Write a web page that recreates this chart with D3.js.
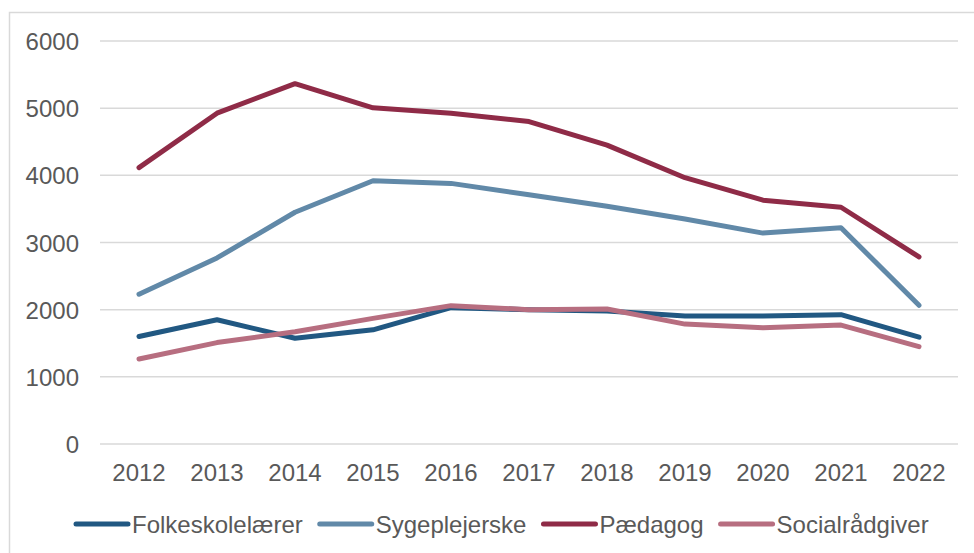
<!DOCTYPE html>
<html>
<head>
<meta charset="utf-8">
<script src="https://cdn.jsdelivr.net/npm/d3@7"></script>
<style>
  body { margin: 0; background: #fff; }
  svg text { font-family: "Liberation Sans", Arial, sans-serif; fill: #595959; }
</style>
</head>
<body>
<div id="chart"></div>
<script>
// data
var years = ["2012","2013","2014","2015","2016","2017","2018","2019","2020","2021","2022"];
var yTicks = [0, 1000, 2000, 3000, 4000, 5000, 6000];

var folkeskolelaerer = [1600, 1850, 1575, 1700, 2030, 2000, 1980, 1905, 1907, 1925, 1590];
var sygeplejerske    = [2230, 2770, 3450, 3920, 3880, 3710, 3540, 3350, 3140, 3220, 2065];
var paedagog         = [4115, 4925, 5365, 5005, 4925, 4800, 4450, 3965, 3630, 3525, 2785];
var socialraadgiver  = [1265, 1510, 1670, 1870, 2060, 2000, 2010, 1785, 1730, 1770, 1450];

var seriesNames  = ["Folkeskolelærer", "Sygeplejerske", "Pædagog", "Socialrådgiver"];
var seriesColors = ["#215882", "#6189a8", "#8f2b47", "#b76e80"];

var series = [folkeskolelaerer, sygeplejerske, paedagog, socialraadgiver].map(function(vals, i){
    return { name: seriesNames[i], color: seriesColors[i], values: vals };
});

var width = 974, height = 553;
var margin = { left: 100, right: 16, top: 41, bottom: 109 };
var fontSize = 24;

var svg = d3.select("#chart")
    .append("svg")
    .attr("width", width)
    .attr("height", height);

// outer chart frame (only left and top edges visible)
svg.append("path")
    .attr("d", "M9.5," + height + "V12.5H" + width)
    .attr("fill", "none")
    .attr("stroke", "#d9d9d9")
    .attr("stroke-width", 1.5);

var x = d3.scaleBand()
    .domain(years)
    .range([margin.left, width - margin.right]);

var y = d3.scaleLinear()
    .domain([0, 6000])
    .range([height - margin.bottom, margin.top]);

// gridlines
svg.append("g")
    .selectAll("line")
    .data(yTicks)
    .join("line")
    .attr("x1", margin.left)
    .attr("x2", width - margin.right)
    .attr("y1", function(d){ return y(d); })
    .attr("y2", function(d){ return y(d); })
    .attr("stroke", "#d9d9d9")
    .attr("stroke-width", 1.5);

// y axis labels
var yAxis = svg.append("g")
    .attr("transform", "translate(" + (margin.left - 21) + ",0)")
    .call(d3.axisLeft(y).tickValues(yTicks).tickSize(0).tickPadding(0).tickFormat(d3.format("d")));
yAxis.select(".domain").remove();
yAxis.selectAll("text")
    .attr("font-size", fontSize)
    .attr("font-family", null)
    .attr("dy", "0.36em");

// x axis labels
var xAxis = svg.append("g")
    .attr("transform", "translate(0," + (height - margin.bottom) + ")")
    .call(d3.axisBottom(x).tickSize(0).tickPadding(20));
xAxis.select(".domain").remove();
xAxis.selectAll("text")
    .attr("font-size", fontSize)
    .attr("font-family", null);

// lines
var line = d3.line()
    .x(function(d, i){ return x(years[i]) + x.bandwidth() / 2; })
    .y(function(d){ return y(d); });

svg.append("g")
    .selectAll("path")
    .data(series)
    .join("path")
    .attr("d", function(s){ return line(s.values); })
    .attr("fill", "none")
    .attr("stroke", function(s){ return s.color; })
    .attr("stroke-width", 5)
    .attr("stroke-linejoin", "round")
    .attr("stroke-linecap", "round");

// legend
var legend = svg.append("g");
var lx = 74, ly = 524;
series.forEach(function(s){
    legend.append("line")
        .attr("x1", lx + 2).attr("x2", lx + 54)
        .attr("y1", ly).attr("y2", ly)
        .attr("stroke", s.color)
        .attr("stroke-width", 5)
        .attr("stroke-linecap", "round");
    var t = legend.append("text")
        .attr("x", lx + 58)
        .attr("y", ly)
        .attr("dy", "0.36em")
        .attr("font-size", fontSize)
        .text(s.name);
    lx += 58 + t.node().getComputedTextLength() + 15;
});
</script>
</body>
</html>
